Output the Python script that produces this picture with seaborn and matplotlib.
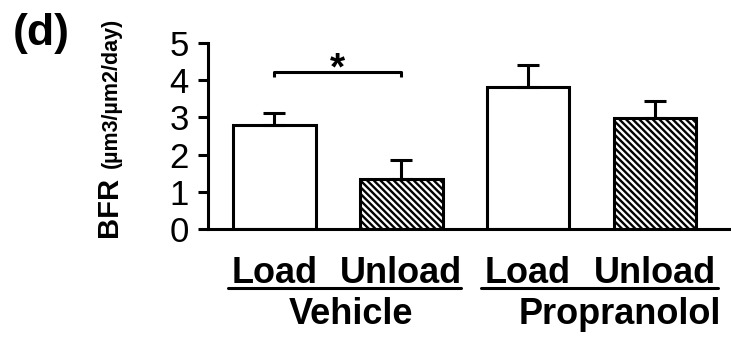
import numpy as np
import pandas as pd
import seaborn as sns
import matplotlib.pyplot as plt

# data
groups = ["Vehicle", "Vehicle", "Propranolol", "Propranolol"]
conditions = ["Load", "Unload", "Load", "Unload"]
bfr_mean = [2.80, 1.35, 3.80, 2.99]
bfr_sem = [0.31, 0.51, 0.60, 0.44]
y_ticks = [0, 1, 2, 3, 4, 5]
sig_level = 4.21

W, H = 731, 341


def fx(px):
    return px / W


def fy(py):
    return 1 - py / H


sns.set_style("ticks")
plt.rcParams['font.family'] = ['Liberation Sans', 'DejaVu Sans']
plt.rcParams['hatch.linewidth'] = 1.7
for k in ['text.color', 'axes.labelcolor', 'xtick.color', 'ytick.color', 'axes.edgecolor']:
    plt.rcParams[k] = 'black'

df = pd.DataFrame({"group": groups, "condition": conditions, "bfr": bfr_mean})
df["key"] = df["group"] + " " + df["condition"]

fig = plt.figure(figsize=(W / 100, H / 100), dpi=100)
ax = fig.add_axes([fx(208.3), fy(229.3), fx(730) - fx(208.3), fy(42.7) - fy(229.3)])

sns.barplot(data=df, x="key", y="bfr", order=list(df["key"]), color="white",
            edgecolor="black", linewidth=2.2, width=0.65, errorbar=None,
            saturation=1, ax=ax)

centers = []
for i, p in enumerate(ax.patches):
    p.set_facecolor("white")
    p.set_edgecolor("black")
    if df["condition"][i] == "Unload":
        p.set_hatch("\\" * 5)
    centers.append(p.get_x() + p.get_width() / 2)
centers = np.array(centers)

ax.errorbar(centers, bfr_mean, yerr=[np.zeros(len(bfr_sem)), bfr_sem], fmt="none",
            ecolor="black", elinewidth=2.2, capsize=8, capthick=2.2, zorder=3)

ax.set_xlim(centers[0] - 0.522, centers[0] + 3.592)
ax.set_ylim(0, 5)
ax.set_yticks(y_ticks)
ax.tick_params(axis="y", direction="out", length=7, width=2.2, labelsize=25, pad=7)
ax.tick_params(axis="x", length=0)
ax.set_xticklabels([])
ax.set_xlabel("")
ax.set_ylabel("")
sns.despine(ax=ax)
for s in ["left", "bottom"]:
    ax.spines[s].set_linewidth(2.2)

# significance bracket
ax.plot([centers[0], centers[0], centers[1], centers[1]],
        [sig_level - 0.13, sig_level, sig_level, sig_level - 0.13],
        color="black", lw=2.2, solid_capstyle="butt")
ax.text((centers[0] + centers[1]) / 2, 4.02, "*", ha="center", va="baseline",
        fontsize=28, fontweight="bold")

# category labels under bars
tr = ax.get_xaxis_transform()
for c, lab in zip(centers, conditions):
    ax.text(c, -0.2894, lab, transform=tr, ha="center", va="baseline",
            fontsize=26, fontweight="bold", clip_on=False)
ax.plot([centers[0] - 0.37, centers[1] + 0.47], [-0.316, -0.316], transform=tr,
        color="black", lw=2.2, clip_on=False)
ax.plot([centers[2] - 0.37, centers[3] + 0.50], [-0.316, -0.316], transform=tr,
        color="black", lw=2.2, clip_on=False)
ax.text(centers[0] + 0.60, -0.509, "Vehicle", transform=tr, ha="center", va="baseline",
        fontsize=26, fontweight="bold", clip_on=False)
ax.text(centers[2] + 0.72, -0.509, "Propranolol", transform=tr, ha="center", va="baseline",
        fontsize=26, fontweight="bold", clip_on=False)

# y label
fig.text(fx(117), fy(237), "BFR", rotation=90, rotation_mode="anchor", ha="left",
         va="baseline", fontsize=21, fontweight="bold")
fig.text(fx(117), fy(168), "(µm3/µm2/day)", rotation=90, rotation_mode="anchor",
         ha="left", va="baseline", fontsize=15.5, fontweight="bold")

fig.text(fx(12.7), fy(45), "(d)", ha="left", va="baseline", fontsize=32, fontweight="bold")

fig.savefig("out.png", dpi=100)
